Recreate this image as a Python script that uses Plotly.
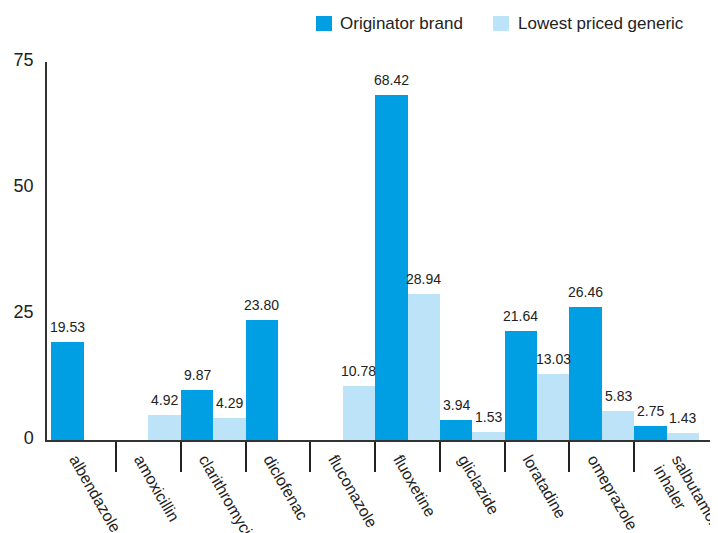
import plotly.graph_objects as go

categories = ["albendazole", "amoxicillin", "clarithromycin", "diclofenac", "fluconazole",
              "fluoxetine", "gliclazide", "loratadine", "omeprazole", "salbutamol<br>inhaler"]
brand = [19.53, None, 9.87, 23.80, None, 68.42, 3.94, 21.64, 26.46, 2.75]
generic = [None, 4.92, 4.29, None, 10.78, 28.94, 1.53, 13.03, 5.83, 1.43]
series_names = ["Originator brand", "Lowest priced generic"]
y_ticks = [0, 25, 50, 75]

BRAND_COLOR = "#009FE3"
GENERIC_COLOR = "#BDE3F8"
TEXT_COLOR = "#222222"
FONT = "Liberation Sans, Arial, sans-serif"

xs = list(range(len(categories)))
# two-line labels are nudged so their first line starts where single-line ones do
label_pos = [i + (0.3 if "<br>" in c else 0.0) for i, c in zip(xs, categories)]

fig = go.Figure()
fig.add_trace(go.Bar(x=xs, y=brand, name=series_names[0], marker_color=BRAND_COLOR,
                     marker_line_width=0, showlegend=False))
fig.add_trace(go.Bar(x=xs, y=generic, name=series_names[1], marker_color=GENERIC_COLOR,
                     marker_line_width=0, showlegend=False))

annotations = []
for series, off in ((brand, -0.25), (generic, 0.25)):
    for i, v in zip(xs, series):
        if v is None:
            continue
        annotations.append(dict(x=i + off, y=v, xref="x", yref="y", text=f"{v:.2f}",
                                showarrow=False, yanchor="bottom", yshift=5,
                                font=dict(size=14, color=TEXT_COLOR, family=FONT)))

# custom legend (paper coordinates above the plot area)
shapes = []
legend_items = [(series_names[0], BRAND_COLOR, 0.4045, 0.4286, 0.4376),
                (series_names[1], GENERIC_COLOR, 0.6707, 0.6947, 0.7053)]
for name, color, x0, x1, tx in legend_items:
    shapes.append(dict(type="rect", xref="paper", yref="paper", x0=x0, x1=x1,
                       y0=1.082, y1=1.1217, fillcolor=color, line_width=0))
    annotations.append(dict(x=tx, y=1.1019, xref="paper", yref="paper", text=name,
                            showarrow=False, xanchor="left", yanchor="middle",
                            font=dict(size=17, color=TEXT_COLOR, family=FONT)))

# the page body adds an 8px margin, so the figure is sized/offset to compensate
fig.update_layout(
    width=710, height=525,
    margin=dict(l=39, r=6, t=54, b=93, autoexpand=False),
    barmode="group", bargap=0, bargroupgap=0,
    plot_bgcolor="white", paper_bgcolor="white",
    font=dict(family=FONT, color=TEXT_COLOR),
    showlegend=False,
    annotations=annotations,
    shapes=shapes,
    xaxis=dict(
        range=[-0.566, 9.70],
        tickmode="array", tickvals=label_pos, ticktext=categories,
        ticks="", tickangle=60, ticklabelshift=-8, ticklabelstandoff=2,
        ticklabeloverflow="allow",
        tickfont=dict(size=16, color=TEXT_COLOR, family=FONT),
        showline=True, linecolor="#333333", linewidth=1.5,
        showgrid=False, zeroline=False,
        minor=dict(tickmode="array", tickvals=[i + 0.5 for i in xs[:-1]],
                   ticks="outside", ticklen=30, tickwidth=1.5, tickcolor="#222222",
                   showgrid=False),
        automargin=False,
    ),
    yaxis=dict(
        range=[0, 75], tickmode="array", tickvals=y_ticks,
        ticks="", ticklabelstandoff=8, ticklabelshift=-2,
        tickfont=dict(size=18, color=TEXT_COLOR, family=FONT),
        showline=True, linecolor="#333333", linewidth=1.5,
        showgrid=False, zeroline=False, automargin=False,
    ),
)

fig.write_html("out.html")
